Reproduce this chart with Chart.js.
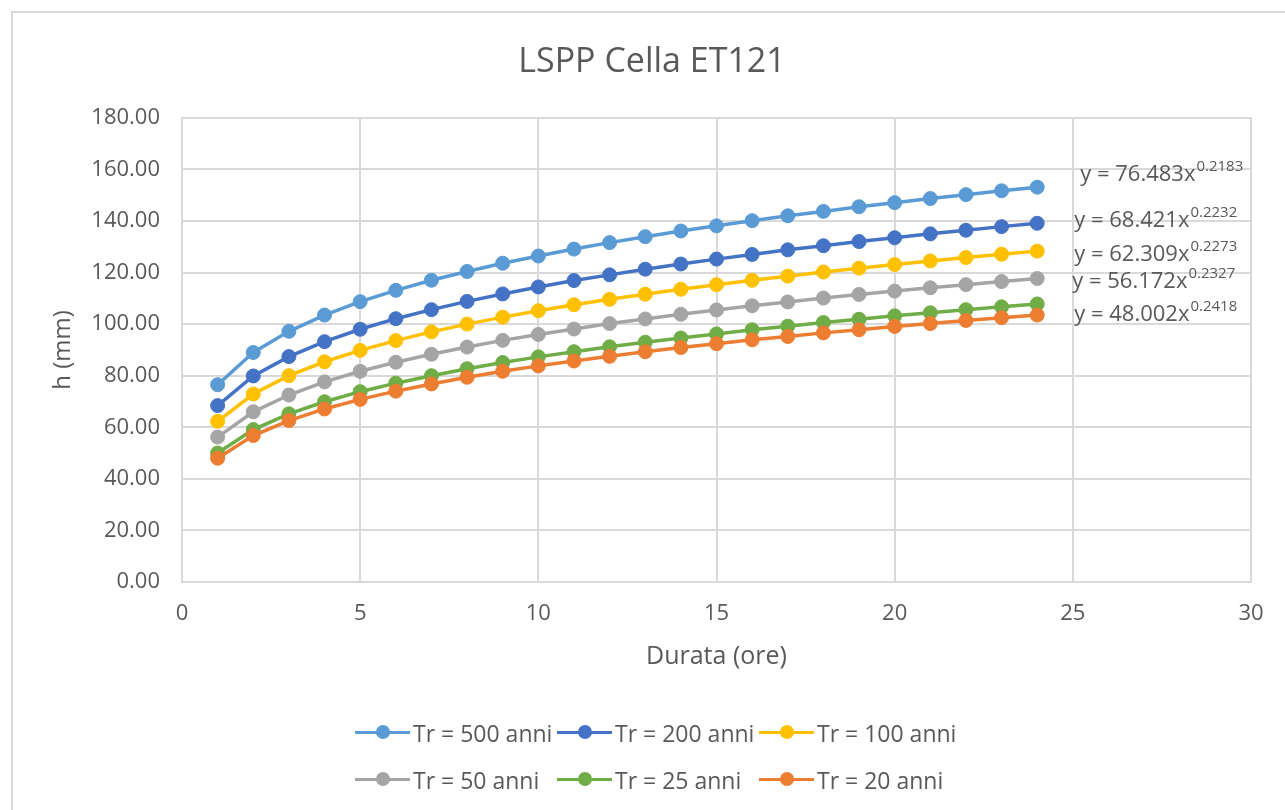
<!DOCTYPE html>
<html>
<head>
<meta charset="utf-8">
<title>LSPP Cella ET121</title>
<script src="https://cdn.jsdelivr.net/npm/chart.js@4.4.1/dist/chart.umd.min.js"></script>
<style>
    html, body { margin: 0; padding: 0; background: #fff; overflow: hidden; }
    #wrap { position: relative; width: 1285px; height: 810px; overflow: hidden; }
    #frame { position: absolute; left: 11px; top: 11px; width: 1400px; height: 900px; border: 2px solid #d9d9d9; box-sizing: border-box; }
    #chart { position: absolute; left: 0; top: 0; }
    #legend { position: absolute; left: 355px; top: 709px; display: grid; grid-template-columns: 202px 202px 202px;
              font-family: 'Open Sans', sans-serif; font-size: 23px; color: #595959; }
    .item { display: flex; align-items: center; height: 47px; white-space: nowrap; }
    .mk { position: relative; width: 55px; height: 14px; margin-right: 3px; flex: none; }
    .mk::before { content: ''; position: absolute; left: 0; right: 0; top: 5px; height: 3px; background: var(--c); }
    .mk::after { content: ''; position: absolute; left: 21px; top: -0.5px; width: 14px; height: 14px; border-radius: 50%; background: var(--c); }
</style>
</head>
<body>
<div id="wrap">
    <div id="frame"></div>
    <canvas id="chart" width="1285" height="810"></canvas>
    <div id="legend"></div>
</div>
<script>
// durata (ore)
const durata = [1, 2, 3, 4, 5, 6, 7, 8, 9, 10, 11, 12, 13, 14, 15, 16, 17, 18, 19, 20, 21, 22, 23, 24];

// h (mm) per tempo di ritorno
const tr500 = [76.5, 89.0, 97.2, 103.5, 108.7, 113.1, 117.0, 120.4, 123.6, 126.4, 129.1, 131.6,
               133.9, 136.1, 138.1, 140.1, 142.0, 143.7, 145.5, 147.1, 148.7, 150.2, 151.7, 153.1];
const tr200 = [68.4, 79.9, 87.4, 93.2, 98.0, 102.1, 105.6, 108.8, 111.7, 114.4, 116.9, 119.1,
               121.3, 123.3, 125.2, 127.0, 128.8, 130.4, 132.0, 133.5, 135.0, 136.4, 137.8, 139.1];
const tr100 = [62.3, 72.9, 80.0, 85.4, 89.8, 93.6, 97.0, 100.0, 102.7, 105.2, 107.5, 109.6,
               111.6, 113.5, 115.3, 117.0, 118.6, 120.2, 121.7, 123.1, 124.5, 125.8, 127.1, 128.3];
const tr50  = [56.2, 66.0, 72.5, 77.6, 81.7, 85.2, 88.3, 91.1, 93.7, 96.0, 98.1, 100.2,
               102.0, 103.8, 105.5, 107.1, 108.6, 110.1, 111.5, 112.8, 114.1, 115.3, 116.5, 117.7];
const tr25  = [50.0, 59.1, 65.2, 69.9, 73.8, 77.1, 80.0, 82.7, 85.1, 87.3, 89.3, 91.2,
               93.0, 94.6, 96.2, 97.8, 99.2, 100.6, 101.9, 103.2, 104.4, 105.6, 106.7, 107.8];
const tr20  = [48.0, 56.8, 62.6, 67.1, 70.8, 74.0, 76.8, 79.4, 81.7, 83.8, 85.7, 87.5,
               89.3, 90.9, 92.4, 93.9, 95.2, 96.6, 97.8, 99.1, 100.2, 101.4, 102.5, 103.5];

const seriesNames = ['Tr = 500 anni', 'Tr = 200 anni', 'Tr = 100 anni', 'Tr = 50 anni', 'Tr = 25 anni', 'Tr = 20 anni'];
const seriesValues = [tr500, tr200, tr100, tr50, tr25, tr20];
const seriesColors = ['#5B9BD5', '#4472C4', '#FFC000', '#A5A5A5', '#70AD47', '#ED7D31'];

// trend line equations (series index, text, exponent)
const eqSeries = [0, 1, 2, 3, 5];
const eqText = ['y = 76.483x', 'y = 68.421x', 'y = 62.309x', 'y = 56.172x', 'y = 48.002x'];
const eqExp = ['0.2183', '0.2232', '0.2273', '0.2327', '0.2418'];

const yTicks = [0, 20, 40, 60, 80, 100, 120, 140, 160, 180];
const xTicks = [0, 5, 10, 15, 20, 25, 30];

const FONT = "'Open Sans', sans-serif";
const TXT = '#595959';
const GRID = '#d9d9d9';

// offsets of the equation text from the last point of each series
const eqDx = [43, 37, 37, 35, 37];
const eqDy = [-12, -3, 4, 3, 0];

const equationLabels = {
    id: 'equationLabels',
    afterDatasetsDraw(chart) {
        const ctx = chart.ctx;
        ctx.save();
        ctx.fillStyle = TXT;
        ctx.textBaseline = 'middle';
        ctx.textAlign = 'left';
        eqSeries.forEach((si, i) => {
            const pts = chart.getDatasetMeta(si).data;
            const last = pts[pts.length - 1];
            const x = last.x + eqDx[i];
            const y = last.y + eqDy[i];
            ctx.font = '22px ' + FONT;
            ctx.fillText(eqText[i], x, y);
            const w = ctx.measureText(eqText[i]).width;
            ctx.font = '15px ' + FONT;
            ctx.fillText(eqExp[i], x + w + 1, y - 8);
        });
        ctx.restore();
    }
};

const datasets = seriesValues.map((vals, i) => ({
    label: seriesNames[i],
    data: vals.map((v, k) => ({ x: durata[k], y: v })),
    borderColor: seriesColors[i],
    backgroundColor: seriesColors[i],
    pointBackgroundColor: seriesColors[i],
    pointBorderColor: seriesColors[i],
    pointBorderWidth: 1,
    pointRadius: 7,
    borderWidth: 3.5,
    showLine: true,
    tension: 0,
    order: seriesValues.length - i
}));

new Chart(document.getElementById('chart'), {
    type: 'scatter',
    data: { datasets: datasets },
    plugins: [equationLabels],
    options: {
        responsive: false,
        animation: false,
        events: [],
        layout: { padding: { left: 53, right: 34, top: 0, bottom: 110 } },
        plugins: {
            legend: { display: false },
            tooltip: { enabled: false },
            title: {
                display: true,
                text: 'LSPP Cella ET121',
                color: TXT,
                font: { family: FONT, size: 34, weight: 'normal', lineHeight: 1.2 },
                padding: { top: 42, bottom: 35 }
            }
        },
        scales: {
            x: {
                type: 'linear',
                min: 0,
                max: 30,
                afterBuildTicks: s => { s.ticks = xTicks.map(v => ({ value: v })); },
                afterFit: s => { s.height = 118; s.paddingLeft = 0; s.paddingRight = 0; },
                grid: { color: GRID, lineWidth: 2, drawTicks: false },
                border: { color: GRID, width: 2 },
                ticks: { color: TXT, padding: 19, font: { family: FONT, size: 22 } },
                title: {
                    display: true,
                    text: 'Durata (ore)',
                    color: TXT,
                    font: { family: FONT, size: 25, lineHeight: 1.2 },
                    padding: { top: 0, bottom: 28 }
                }
            },
            y: {
                min: 0,
                max: 180,
                afterBuildTicks: s => { s.ticks = yTicks.map(v => ({ value: v })); },
                afterFit: s => { s.width = 129; s.paddingTop = 0; s.paddingBottom = 0; },
                grid: { color: GRID, lineWidth: 2, drawTicks: false },
                border: { color: GRID, width: 2 },
                ticks: { color: TXT, padding: 22, font: { family: FONT, size: 22 }, callback: v => v.toFixed(2) },
                title: {
                    display: true,
                    text: 'h (mm)',
                    color: TXT,
                    font: { family: FONT, size: 24, lineHeight: 1 },
                    padding: { top: -2, bottom: 0 }
                }
            }
        }
    }
});

// legend in two rows, as in the original
const legend = document.getElementById('legend');
seriesNames.forEach((name, i) => {
    const item = document.createElement('div');
    item.className = 'item';
    const mk = document.createElement('span');
    mk.className = 'mk';
    mk.style.setProperty('--c', seriesColors[i]);
    const txt = document.createElement('span');
    txt.textContent = name;
    item.appendChild(mk);
    item.appendChild(txt);
    legend.appendChild(item);
});
</script>
</body>
</html>
